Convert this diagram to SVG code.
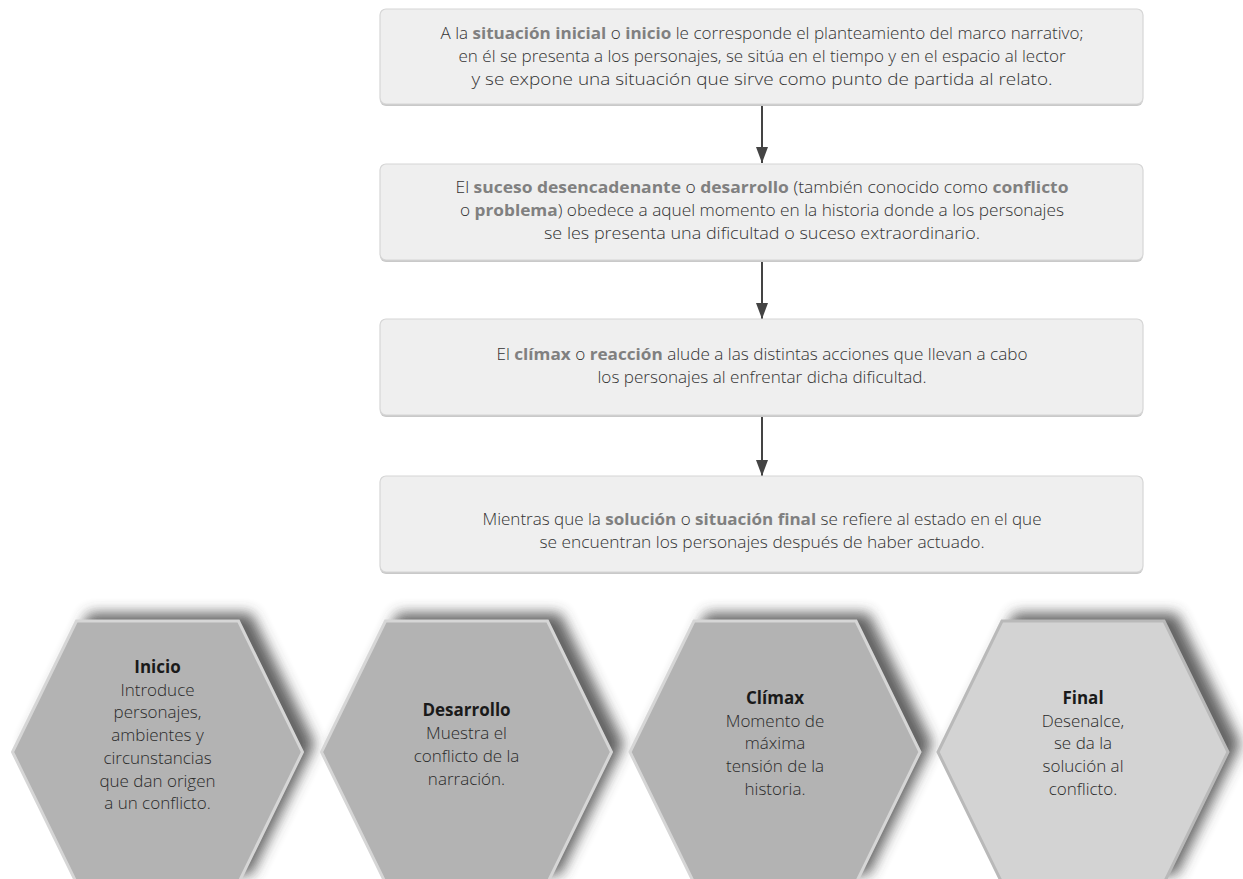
<svg xmlns="http://www.w3.org/2000/svg" width="1243" height="879" viewBox="0 0 1243 879">
<defs>
<style>
.box{fill:#efefef;stroke:#d6d6d6;stroke-width:1.2}
.bshadow{fill:#c9c9c9}
.t{font-family:"Open Sans","Liberation Sans",sans-serif;font-size:16px;font-weight:300;fill:#333;text-anchor:middle}
.b{font-weight:bold;fill:#808080}
.conn{stroke:#444;stroke-width:2;fill:none}
.hex{fill:#b3b3b3;stroke:#d6d6d6;stroke-width:3}
.hex4{fill:#d3d3d3;stroke:#b9b9b9;stroke-width:3}
.hs{fill:#3a3a3a;opacity:0.8}
.ht{font-family:"Open Sans","Liberation Sans",sans-serif;font-size:17px;font-weight:300;fill:#2a2a2a;text-anchor:middle}
.hb{font-weight:bold;fill:#1a1a1a}
</style>
<marker id="ah" viewBox="0 0 16 12" refX="16" refY="6" markerWidth="16" markerHeight="12" markerUnits="userSpaceOnUse" orient="auto">
<path d="M0,0 L16,6 L0,12 Z" fill="#444"/>
</marker>
<filter id="blur" x="-20%" y="-20%" width="140%" height="140%"><feGaussianBlur stdDeviation="7"/></filter>
<polygon id="hexshape" points="-81,-131 81,-131 145,0 81,131 -81,131 -145,0"/>
</defs>
<rect width="1243" height="879" fill="#fff"/>

<g id="connectors">
<line class="conn" x1="762" y1="104" x2="762" y2="163" marker-end="url(#ah)"/>
<line class="conn" x1="762" y1="260" x2="762" y2="319" marker-end="url(#ah)"/>
<line class="conn" x1="762" y1="415" x2="762" y2="476" marker-end="url(#ah)"/>
</g>

<g id="box1">
<rect class="bshadow" x="380" y="11" width="763" height="95" rx="6"/>
<rect class="box" x="380" y="9" width="763" height="95" rx="6"/>
<text class="t" x="762" y="39" textLength="643" lengthAdjust="spacingAndGlyphs">A la <tspan class="b">situación inicial</tspan> o <tspan class="b">inicio</tspan> le corresponde el planteamiento del marco narrativo;</text>
<text class="t" x="762" y="62" textLength="607" lengthAdjust="spacingAndGlyphs">en él se presenta a los personajes, se sitúa en el tiempo y en el espacio al lector</text>
<text class="t" x="762" y="85" textLength="581" lengthAdjust="spacingAndGlyphs">y se expone una situación que sirve como punto de partida al relato.</text>
</g>

<g id="box2">
<rect class="bshadow" x="380" y="166" width="763" height="96" rx="6"/>
<rect class="box" x="380" y="164" width="763" height="96" rx="6"/>
<text class="t" x="762" y="193" textLength="613" lengthAdjust="spacingAndGlyphs">El <tspan class="b">suceso desencadenante</tspan> o <tspan class="b">desarrollo</tspan> (también conocido como <tspan class="b">conflicto</tspan></text>
<text class="t" x="762" y="216" textLength="604" lengthAdjust="spacingAndGlyphs">o <tspan class="b">problema</tspan>) obedece a aquel momento en la historia donde a los personajes</text>
<text class="t" x="762" y="239" textLength="436" lengthAdjust="spacingAndGlyphs">se les presenta una dificultad o suceso extraordinario.</text>
</g>

<g id="box3">
<rect class="bshadow" x="380" y="321" width="763" height="96" rx="6"/>
<rect class="box" x="380" y="319" width="763" height="96" rx="6"/>
<text class="t" x="762" y="360" textLength="531" lengthAdjust="spacingAndGlyphs">El <tspan class="b">clímax</tspan> o <tspan class="b">reacción</tspan> alude a las distintas acciones que llevan a cabo</text>
<text class="t" x="762" y="383" textLength="329" lengthAdjust="spacingAndGlyphs">los personajes al enfrentar dicha dificultad.</text>
</g>

<g id="box4">
<rect class="bshadow" x="380" y="478" width="763" height="96" rx="6"/>
<rect class="box" x="380" y="476" width="763" height="96" rx="6"/>
<text class="t" x="762" y="525" textLength="559" lengthAdjust="spacingAndGlyphs">Mientras que la <tspan class="b">solución</tspan> o <tspan class="b">situación final</tspan> se refiere al estado en el que</text>
<text class="t" x="762" y="548" textLength="445" lengthAdjust="spacingAndGlyphs">se encuentran los personajes después de haber actuado.</text>
</g>

<g id="hex-inicio">
<use href="#hexshape" class="hs" filter="url(#blur)" transform="translate(170,744)"/>
<use href="#hexshape" class="hex" transform="translate(157.5,752)"/>
<text class="ht" x="157.5" y="673"><tspan class="hb">Inicio</tspan><tspan x="157.5" dy="22.7">Introduce</tspan><tspan x="157.5" dy="22.7">personajes,</tspan><tspan x="157.5" dy="22.7">ambientes y</tspan><tspan x="157.5" dy="22.7">circunstancias</tspan><tspan x="157.5" dy="22.7">que dan origen</tspan><tspan x="157.5" dy="22.7">a un conflicto.</tspan></text>
</g>

<g id="hex-desarrollo">
<use href="#hexshape" class="hs" filter="url(#blur)" transform="translate(479,744)"/>
<use href="#hexshape" class="hex" transform="translate(466.5,752)"/>
<text class="ht" x="466.5" y="716"><tspan class="hb">Desarrollo</tspan><tspan x="466.5" dy="23">Muestra el</tspan><tspan x="466.5" dy="23">conflicto de la</tspan><tspan x="466.5" dy="23">narración.</tspan></text>
</g>

<g id="hex-climax">
<use href="#hexshape" class="hs" filter="url(#blur)" transform="translate(787.5,744)"/>
<use href="#hexshape" class="hex" transform="translate(775,752)"/>
<text class="ht" x="775" y="704"><tspan class="hb">Clímax</tspan><tspan x="775" dy="22.7">Momento de</tspan><tspan x="775" dy="22.7">máxima</tspan><tspan x="775" dy="22.7">tensión de la</tspan><tspan x="775" dy="22.7">historia.</tspan></text>
</g>

<g id="hex-final">
<use href="#hexshape" class="hs" filter="url(#blur)" transform="translate(1095.5,744)"/>
<use href="#hexshape" class="hex4" transform="translate(1083,752)"/>
<text class="ht" x="1083" y="704"><tspan class="hb">Final</tspan><tspan x="1083" dy="22.7">Desenalce,</tspan><tspan x="1083" dy="22.7">se da la</tspan><tspan x="1083" dy="22.7">solución al</tspan><tspan x="1083" dy="22.7">conflicto.</tspan></text>
</g>
</svg>
